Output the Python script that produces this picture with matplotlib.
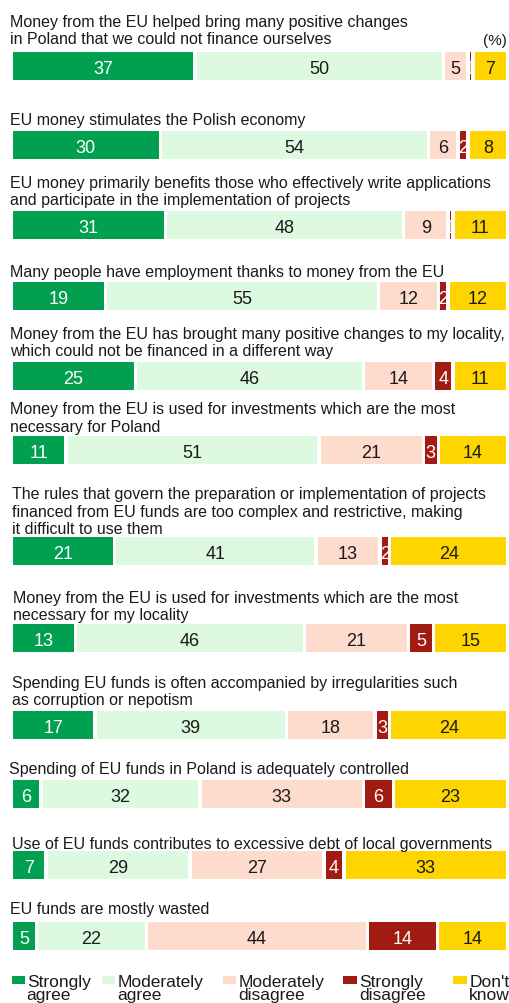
import matplotlib
matplotlib.use("Agg")
import matplotlib.pyplot as plt
from matplotlib.patches import Rectangle
import numpy as np

plt.rcParams['font.family'] = ['Liberation Sans', 'DejaVu Sans']

# ---------------- data ----------------
categories = [
    "Strongly\nagree", "Moderately\nagree", "Moderately\ndisagree",
    "Strongly\ndisagree", "Don't\nknow",
]
statements = [
    "Money from the EU helped bring many positive changes\nin Poland that we could not finance ourselves",
    "EU money stimulates the Polish economy",
    "EU money primarily benefits those who effectively write applications\nand participate in the implementation of projects",
    "Many people have employment thanks to money from the EU",
    "Money from the EU has brought many positive changes to my locality,\nwhich could not be financed in a different way",
    "Money from the EU is used for investments which are the most\nnecessary for Poland",
    "The rules that govern the preparation or implementation of projects\nfinanced from EU funds are too complex and restrictive, making\nit difficult to use them",
    "Money from the EU is used for investments which are the most\nnecessary for my locality",
    "Spending EU funds is often accompanied by irregularities such\nas corruption or nepotism",
    "Spending of EU funds in Poland is adequately controlled",
    "Use of EU funds contributes to excessive debt of local governments",
    "EU funds are mostly wasted",
]
strongly_agree      = [37, 30, 31, 19, 25, 11, 21, 13, 17, 6, 7, 5]
moderately_agree    = [50, 54, 48, 55, 46, 51, 41, 46, 39, 32, 29, 22]
moderately_disagree = [5, 6, 9, 12, 14, 21, 13, 21, 18, 33, 27, 44]
strongly_disagree   = [1, 2, 1, 2, 4, 3, 2, 5, 3, 6, 4, 14]
dont_know           = [7, 8, 11, 12, 11, 14, 24, 15, 24, 23, 33, 14]

# ---------------- style / layout ----------------
colors = ["#00A050", "#DDF9E0", "#FDDBCD", "#A21B12", "#FFD500"]
label_colors = ["white", "#1a1a1a", "#1a1a1a", "white", "#1a1a1a"]

W, H = 509, 1004
bar_top = [53, 132, 212, 283, 363, 437, 538, 625, 712, 781, 852, 923]
bar_h = 28
title_base = [26.5, 125.5, 188.5, 277.5, 339, 414.5, 499.5, 603.5, 688.5, 774.5, 848.5, 914.5]
title_x = [10, 10, 10, 10, 10, 10, 12, 13, 12, 9, 12, 10]
title_ls = [18, 17.5, 17, 17.5, 17, 18, 17.5, 16.7, 16.7, 17.5, 17.5, 17.5]

px_left, px_right = 11.3, 507.7
gap_px = 3.3
unit_px = (px_right - px_left) / 100.0
gap = gap_px / unit_px

fig = plt.figure(figsize=(W / 100, H / 100), dpi=100)
fig.patch.set_facecolor("white")
ax = fig.add_axes([px_left / W, 0, (px_right - px_left) / W, 1])
ax.set_xlim(0, 100)
ax.set_ylim(H, 0)
ax.axis("off")


def fx(x):
    return x / W


def fy(y):
    return 1 - y / H


series = np.array([strongly_agree, moderately_agree, moderately_disagree,
                   strongly_disagree, dont_know], dtype=float).T

for i, row in enumerate(series):
    norm = row / row.sum() * 100.0
    yc = bar_top[i] + bar_h / 2
    cum = 0.0
    for j, (v, w) in enumerate(zip(row, norm)):
        ax.barh(yc, w - gap, left=cum + gap / 2, height=bar_h,
                color=colors[j], edgecolor="none")
        ax.text(cum + w / 2, yc + 6.9, f"{int(v)}", ha="center", va="baseline",
                fontsize=13, color=label_colors[j])
        cum += w
    # title lines
    for k, line in enumerate(statements[i].split("\n")):
        fig.text(fx(title_x[i]), fy(title_base[i] + k * title_ls[i]), line,
                 ha="left", va="baseline", fontsize=11.5, color="#1a1a1a")

fig.text(fx(507), fy(45), "(%)", ha="right", va="baseline", fontsize=11, color="#1a1a1a")

# legend
sq_x = [11.7, 101.7, 222.7, 343.3, 453.3]
txt_x = [26.7, 117.7, 238.3, 359, 469.3]
for j, cat in enumerate(categories):
    fig.patches.append(Rectangle((fx(sq_x[j]), fy(985)), 13.5 / W, 8.3 / H,
                                 transform=fig.transFigure, facecolor=colors[j],
                                 edgecolor="none"))
    for k, line in enumerate(cat.split("\n")):
        fig.text(fx(txt_x[j]), fy(986.7 + k * 13.0), line, ha="left",
                 va="baseline", fontsize=12.5, color="#1a1a1a")

fig.savefig("out.png", dpi=100, facecolor="white")
